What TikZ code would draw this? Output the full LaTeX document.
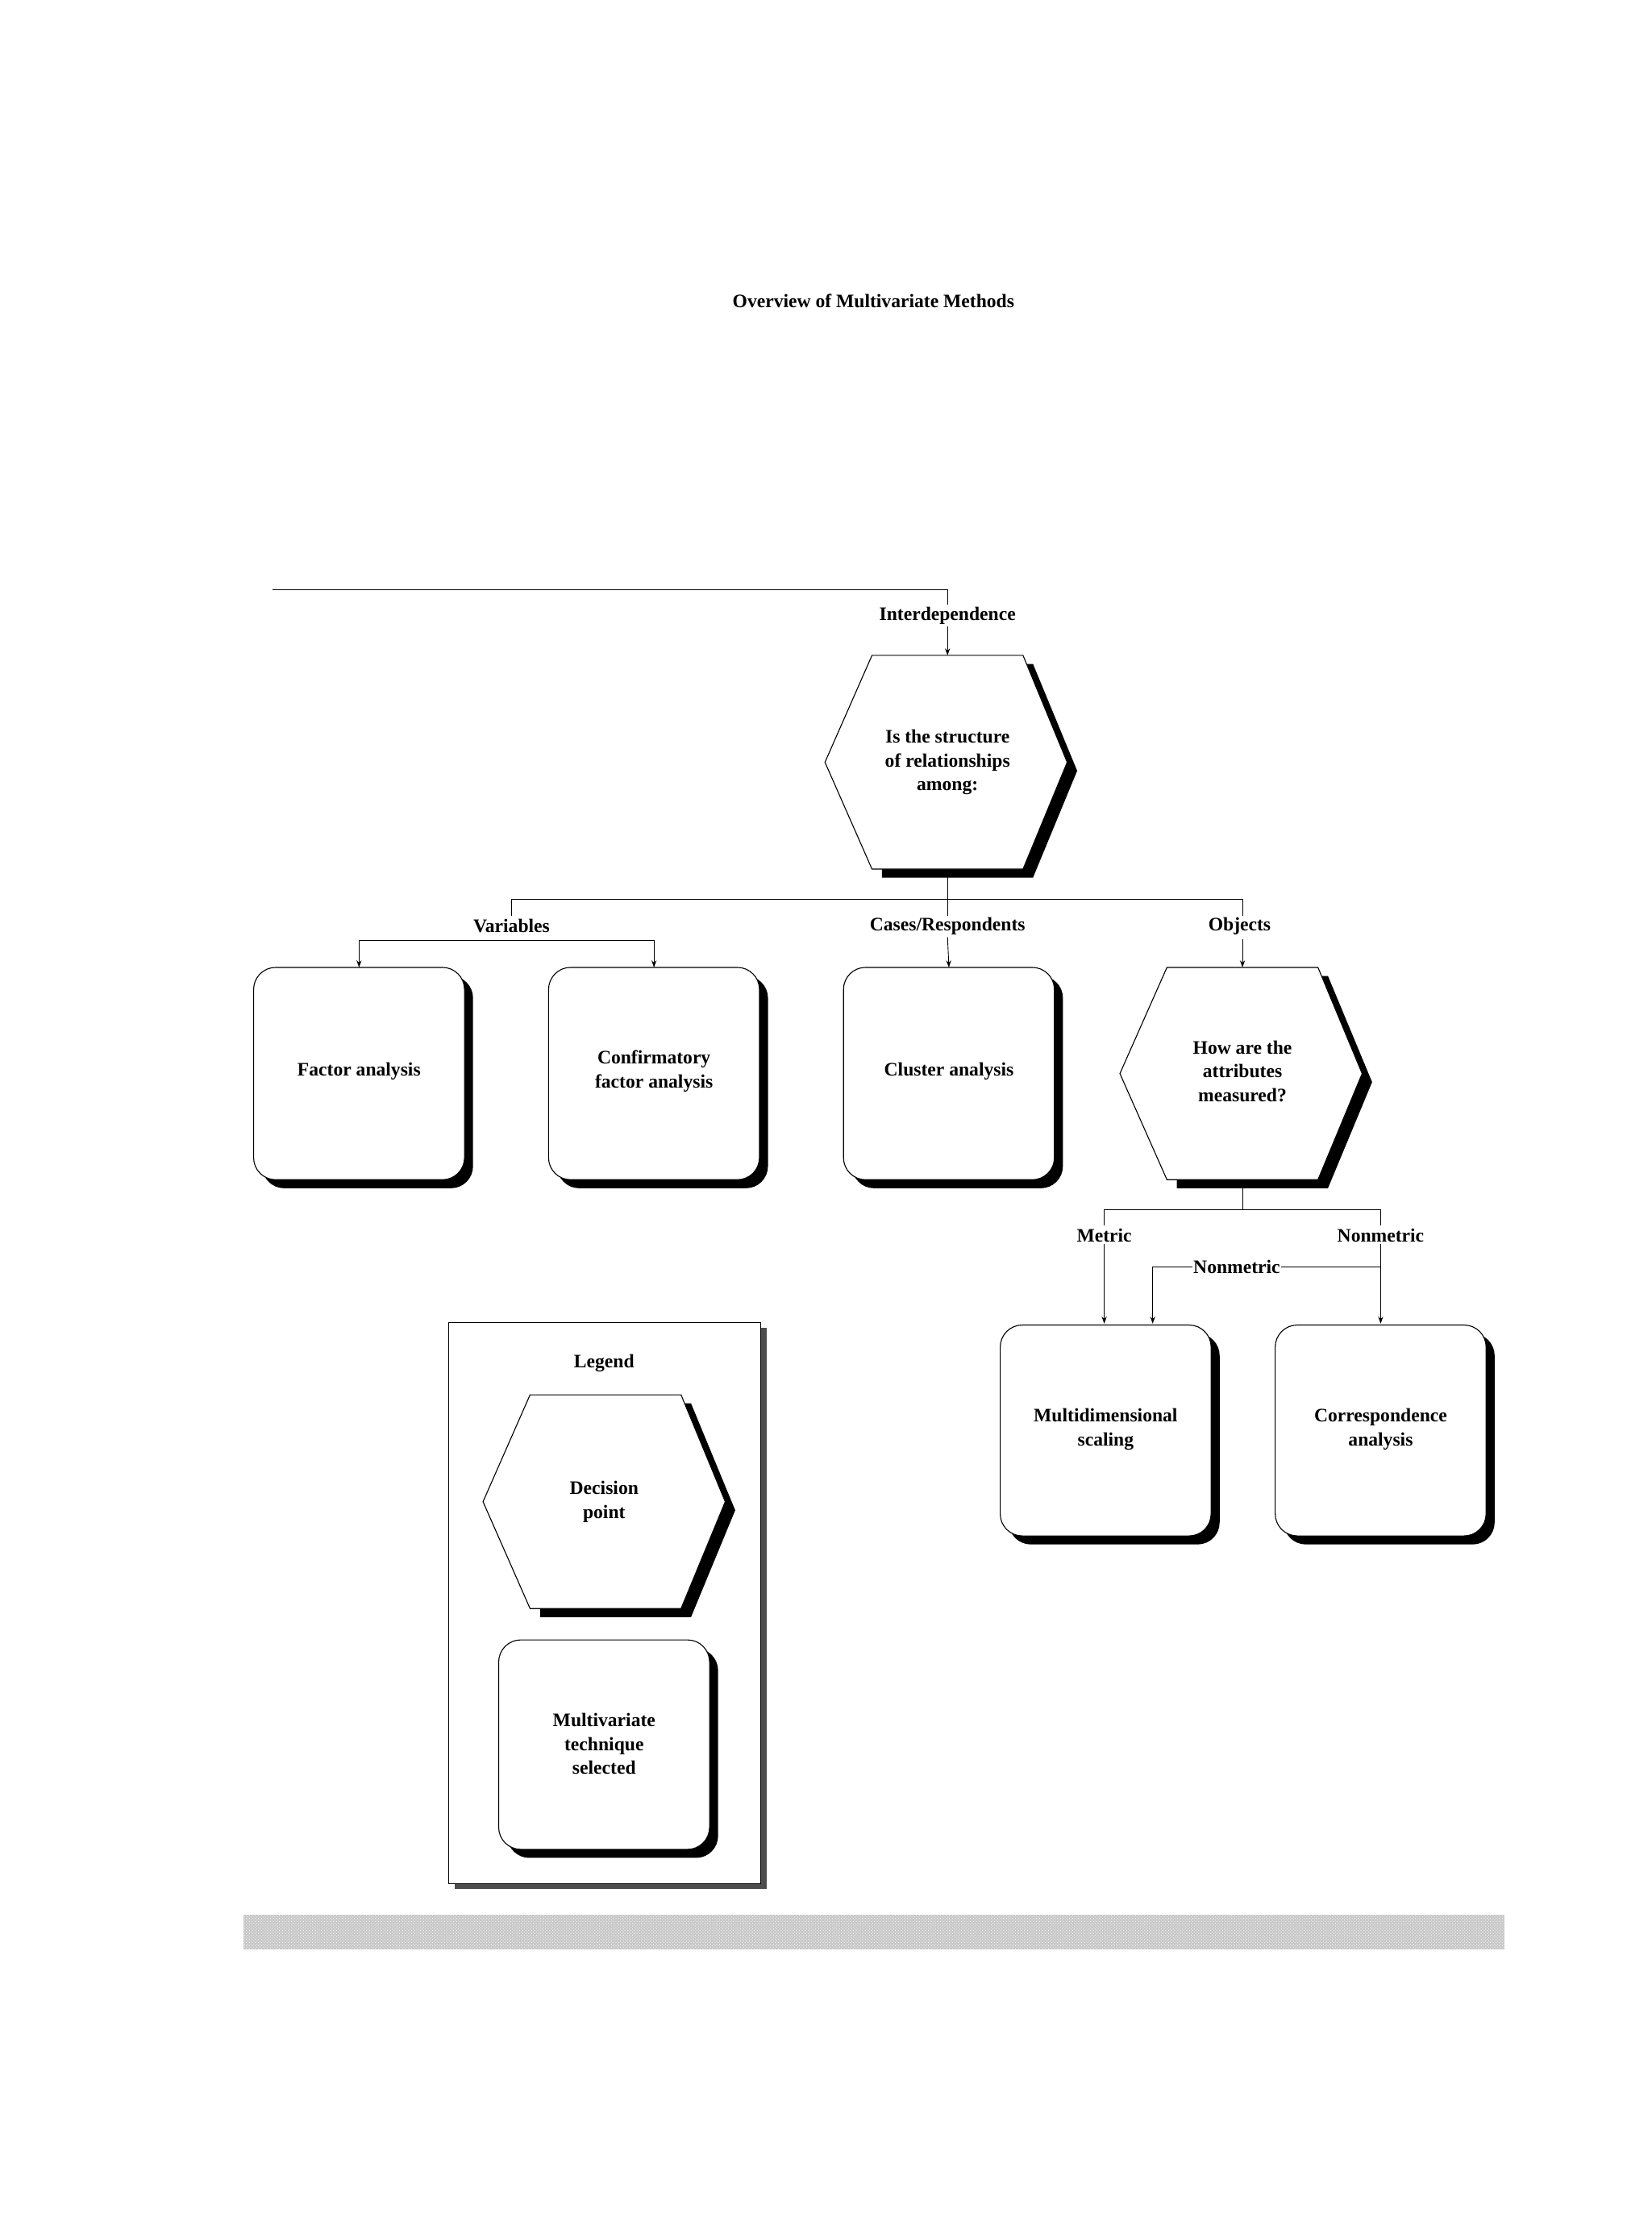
\documentclass[tikz,border=0pt]{standalone}
\usepackage{fontspec}
\setmainfont{Liberation Serif}
\usetikzlibrary{arrows.meta,patterns}
\tikzset{
  lbl/.style={font=\bfseries\fontsize{19}{23}\selectfont, inner sep=2pt, fill=white, align=center},
  txt/.style={font=\bfseries\fontsize{19}{24}\selectfont, align=center},
  con/.style={line width=0.7pt},
  arr/.style={line width=0.7pt,-{Stealth[length=7pt,width=5pt]}},
  outl/.style={draw=black, line width=0.9pt, fill=white},
}
\newcommand\myhex[4]{% cx, top, bottom, name
  \fill[black] ({#1-53+7},{#2+6}) -- ({#1+53+7},{#2+6}) -- ({#1+84+7},{(#2+#3)/2+6}) -- ({#1+53+7},{#3+6}) -- ({#1-53+7},{#3+6}) -- cycle;
  \draw[outl] ({#1-53},#2) -- ({#1+53},#2) -- ({#1+84},{(#2+#3)/2}) -- ({#1+53},#3) -- ({#1-53},#3) -- ({#1-86},{(#2+#3)/2}) -- cycle;
  \coordinate (#4-n) at (#1,#2); \coordinate (#4-s) at (#1,#3);
}
\newcommand\mybox[5]{% x1 y1 x2 y2 name
  \fill[black,rounded corners=22] ({#1+6},{#2+6}) rectangle ({#3+6},{#4+6});
  \draw[outl,rounded corners=22] (#1,#2) rectangle (#3,#4);
  \coordinate (#5-n) at ({(#1+#3)/2},#2);
}
\begin{document}
\begin{tikzpicture}[x=0.05cm,y=-0.05cm]
\useasboundingbox (0,0) rectangle (1159,1568);
\node[txt] (title) at (613,211) {Overview of Multivariate Methods};
% top
\coordinate (tl) at (191,414); \coordinate (tr) at (665,414);
\myhex{665}{460}{610}{h1}
\node[txt] at (665,535) {Is the structure\\of relationships\\among:};
\draw[con] (tl) -- (tr) -- (665,441);
\node[lbl] (inter) at (665,432) {Interdependence};
\draw[arr] (inter.south) -- (h1-n);
% level 2
\mybox{178}{679}{326}{828}{fa}
\node[txt] at (252,752) {Factor analysis};
\mybox{385}{679}{533}{828}{cfa}
\node[txt] at (459,752) {Confirmatory\\factor analysis};
\mybox{592}{679}{740}{828}{ca}
\node[txt] at (666,752) {Cluster analysis};
\myhex{872}{679}{828}{h2}
\node[txt] at (872,752) {How are the\\attributes\\measured?};
\draw[con] (h1-s) -- (665,631);
\draw[con] (359,643) -- (359,631) -- (872,631) -- (872,643);
\draw[con] (665,631) -- (665,643);
\node[lbl] (var) at (359,650) {Variables};
\node[lbl] (cases) at (665,650) {Cases/Respondents};
\node[lbl] (obj) at (870,650) {Objects};
\draw[con] (252,660) -- (459,660);
\draw[arr] (252,660) -- (fa-n);
\draw[arr] (459,660) -- (cfa-n);
\draw[arr] (cases.south) -- (ca-n);
\draw[arr] (872,659) -- (h2-n);
% level 3
\mybox{702}{930}{850}{1078}{mds}
\node[txt] at (776,1003) {Multidimensional\\scaling};
\mybox{895}{930}{1043}{1078}{cor}
\node[txt] at (969,1003) {Correspondence\\analysis};
\draw[con] (h2-s) -- (872,849);
\draw[con] (775,860) -- (775,849) -- (969,849) -- (969,860);
\node[lbl] (met) at (775,867) {Metric};
\node[lbl] (nmet) at (969,867) {Nonmetric};
\node[lbl,inner sep=1pt] (nmet2) at (868,889) {Nonmetric};
\draw[arr] (met.south) -- (775,929);
\draw[arr] (nmet.south) -- (969,929);
\draw[con] (nmet2.east) -- (969,889);
\draw[arr] (nmet2.west) -- (809,889) -- (809,929);
% legend
\fill[black!70] (319,932) rectangle (538,1326);
\draw[outl,line width=0.7pt] (315,928) rectangle (534,1322);
\node[txt] (leg) at (424,957) {Legend};
\myhex{425}{979}{1129}{lh}
\node[txt] at (424,1054) {Decision\\point};
\mybox{350}{1151}{498}{1298}{lb}
\node[txt] at (424,1224) {Multivariate\\technique\\selected};
% bar
\fill[gray!45] (171,1344) rectangle (1056,1368);
\fill[pattern=crosshatch dots, pattern color=white] (171,1344) rectangle (1056,1368);
\end{tikzpicture}
\end{document}
